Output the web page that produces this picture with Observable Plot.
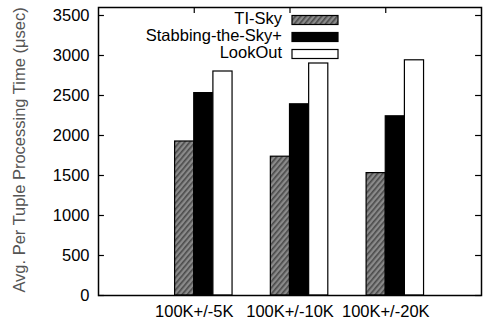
<!DOCTYPE html>
<html>
<head>
<meta charset="utf-8">
<script src="https://cdn.jsdelivr.net/npm/d3@7"></script>
<script src="https://cdn.jsdelivr.net/npm/@observablehq/plot@0.6"></script>
<style>
  html, body { margin: 0; padding: 0; background: #fff; }
  #chart svg { display: block; }
</style>
</head>
<body>
<div id="chart"></div>
<script>
const categories = ["100K+/-5K", "100K+/-10K", "100K+/-20K"];
const seriesNames = ["TI-Sky", "Stabbing-the-Sky+", "LookOut"];
const tiSky = [1925, 1735, 1530];
const stabbing = [2530, 2390, 2240];
const lookOut = [2800, 2900, 2940];
const yTicks = [0, 500, 1000, 1500, 2000, 2500, 3000, 3500];

const seriesValues = [tiSky, stabbing, lookOut];
const barOffset = [-0.2, 0, 0.2];   // bar start relative to group tick, in x units
const barWidth = 0.2;
const fills = ["url(#hatch)", "#000", "#fff"];

const rows = [];
seriesValues.forEach((vals, s) => {
  vals.forEach((v, i) => {
    rows.push({series: seriesNames[s], pos: i + 1, x1: i + 1 + barOffset[s], x2: i + 1 + barOffset[s] + barWidth, value: v});
  });
});

const yMax = 3600, xMax = 4;
const tickLenX = 0.062, tickLenY = 75;
const FONT = "'Liberation Sans', Arial, sans-serif";

const plot = Plot.plot({
  width: 483,
  height: 324,
  marginLeft: 98,
  marginRight: 2,
  marginTop: 7,
  marginBottom: 29,
  style: {fontFamily: FONT, fontSize: "16.5px", color: "#000", background: "#fff"},
  x: {domain: [0, xMax]},
  y: {domain: [0, yMax]},
  marks: [
    Plot.rectY(rows, {x1: "x1", x2: "x2", y1: 0, y2: "value",
      fill: d => fills[seriesNames.indexOf(d.series)], stroke: "#000", strokeWidth: 1.2}),
    // inward ticks, left and right
    Plot.ruleY(yTicks, {x1: 0, x2: tickLenX, stroke: "#000", strokeWidth: 1.2}),
    Plot.ruleY(yTicks, {x1: xMax - tickLenX, x2: xMax, stroke: "#000", strokeWidth: 1.2}),
    // inward ticks, top and bottom
    Plot.ruleX([1, 2, 3], {y1: yMax - tickLenY, y2: yMax, stroke: "#000", strokeWidth: 1.2}),
    Plot.ruleX([1, 2, 3], {y1: 0, y2: tickLenY, stroke: "#000", strokeWidth: 1.2}),
    Plot.axisY({ticks: yTicks, tickFormat: d => String(d), tickSize: 0, tickPadding: 9, label: null, fontSize: 16.5}),
    Plot.axisX({ticks: [1, 2, 3], tickFormat: d => categories[d - 1], tickSize: 0, tickPadding: 10, label: null, fontSize: 16.5}),
    Plot.frame({stroke: "#000", strokeWidth: 1.5})
  ]
});

const svg = d3.select(plot);
// hatch pattern
const defs = svg.insert("defs", ":first-child");
const pat = defs.append("pattern").attr("id", "hatch").attr("patternUnits", "userSpaceOnUse")
  .attr("width", 4).attr("height", 4).attr("patternTransform", "rotate(40)");
pat.append("rect").attr("width", 4).attr("height", 4).attr("fill", "#8a8a8a");
pat.append("rect").attr("width", 1.6).attr("height", 4).attr("fill", "#4a4a4a");

// y-axis title
svg.append("text")
  .attr("transform", "translate(21,150) rotate(-90)")
  .attr("text-anchor", "middle").attr("dominant-baseline", "middle")
  .attr("font-family", FONT)
  .attr("font-size", 16.5).attr("fill", "#555")
  .text("Avg. Per Tuple Processing Time (\u03bcsec)");

// legend
const lg = svg.append("g").attr("font-family", FONT).attr("font-size", 16.5);
seriesNames.forEach((name, i) => {
  const cy = 20 + i * 17;
  lg.append("text").attr("x", 282).attr("y", cy).attr("text-anchor", "end")
    .attr("dominant-baseline", "middle").text(name);
  lg.append("rect").attr("x", 292).attr("y", cy - 4.5).attr("width", 46).attr("height", 9)
    .attr("fill", fills[i]).attr("stroke", "#000").attr("stroke-width", 1.2);
});

document.getElementById("chart").appendChild(plot);
</script>
</body>
</html>
